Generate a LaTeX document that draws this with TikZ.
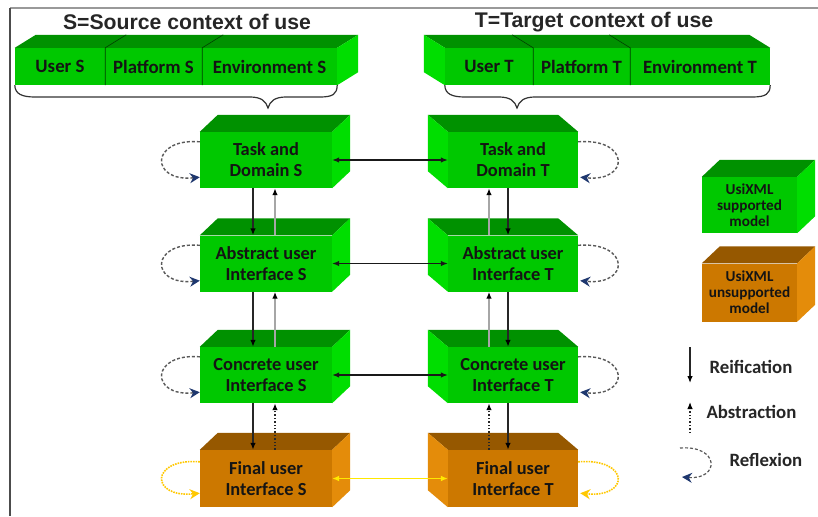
\documentclass[tikz,border=0pt]{standalone}
\usepackage{fontspec}
\setmainfont{Carlito}
\newfontfamily\titlefont{Liberation Sans}
\usetikzlibrary{arrows.meta,calc}
\definecolor{gfront}{RGB}{0,200,0}
\definecolor{gtop}{RGB}{0,145,0}
\definecolor{gside}{RGB}{0,222,0}
\definecolor{ofront}{RGB}{204,120,0}
\definecolor{otop}{RGB}{150,88,0}
\definecolor{oside}{RGB}{228,140,10}
\definecolor{txt}{RGB}{20,20,20}
\definecolor{navyb}{RGB}{30,55,110}
\definecolor{ylw}{RGB}{255,200,0}
\definecolor{ylwh}{RGB}{255,232,0}
\newcommand\boxfnt{\bfseries\fontsize{18.4}{21}\selectfont}
\newcommand\legfnt{\bfseries\fontsize{15.2}{16}\selectfont}
\let\cubefont\boxfnt
% cube with depth to the right
\newcommand\cubeR[7]{%
  \node[front, fill=#6front, minimum width=#4pt, minimum height=#5pt] (#1) at (#2,#3) {#7};
  \fill[#6top] (#1.north west) -- ++(18,-17) -- ($(#1.north east)+(18,-17)$) -- (#1.north east) -- cycle;
  \fill[#6side] (#1.north east) -- ++(18,-17) -- ($(#1.south east)+(18,-17)$) -- (#1.south east) -- cycle;
}
% cube with depth to the left
\newcommand\cubeL[7]{%
  \node[front, fill=#6front, minimum width=#4pt, minimum height=#5pt] (#1) at (#2,#3) {#7};
  \fill[#6top] (#1.north west) -- ++(-20,-17) -- ($(#1.north east)+(-20,-17)$) -- (#1.north east) -- cycle;
  \fill[#6side] (#1.north west) -- ++(-20,-17) -- ($(#1.south west)+(-20,-17)$) -- (#1.south west) -- cycle;
}
\begin{document}
\begin{tikzpicture}[x=1pt,y=-1pt,
  front/.style={draw=none, inner sep=0pt, align=center, font=\cubefont, text=txt},
  strip/.style={fill=gfront, inner sep=0pt, minimum height=37pt, font=\bfseries\fontsize{18.8}{21}\selectfont, text=txt},
  divider/.style={draw=black!75!green, line width=0.6pt},
  brace/.style={draw=black!80, line width=1.2pt},
  title/.style={font=\titlefont\bfseries\fontsize{21.2}{24}\selectfont, text=black!85},
  legtext/.style={anchor=west, font=\bfseries\fontsize{18.8}{21}\selectfont, text=black!85},
  reif/.style={draw=black!85, line width=1.4pt, -{Latex[length=7pt,width=5.5pt,color=black]}},
  abst/.style={draw=black!35, line width=1.4pt, -{Latex[length=7pt,width=5.5pt,color=black]}},
  absdot/.style={draw=black!85, line width=1.4pt, dotted, -{Latex[length=7pt,width=5.5pt,color=black]}},
  horiz/.style={draw=black!90, line width=1.2pt, {Latex[length=7pt,width=5.5pt]}-{Latex[length=7pt,width=5.5pt]}},
  horizy/.style={draw=ylwh, line width=1.4pt, {Latex[length=7pt,width=6pt]}-{Latex[length=7pt,width=6pt]}},
  refl/.style={draw=black!65, densely dashed, line width=1.4pt, -{Stealth[length=10pt,width=10pt,color=navyb]}},
  refly/.style={draw=ylw, densely dotted, line width=1.6pt, -{Stealth[length=10pt,width=10pt,color=ylw]}}
]
\useasboundingbox (0,0) rectangle (818,516);
\fill[white] (0,0) rectangle (818,516);
% frame
\draw[black!40, line width=1.5pt] (10,8) -- (818,8);
\draw[black!70, line width=1.3pt] (10,8) -- (10,516);

% titles
\node[title] (titleS) at (187,22) {S=Source context of use};
\node[title] (titleT) at (594,22) {T=Target context of use};

% source strip
\node[strip, minimum width=90pt] (userS) at (60,66.5) {User S};
\node[strip, minimum width=97pt] (platS) at (153.5,66.5) {Platform S};
\node[strip, minimum width=135pt] (envS) at (269.5,66.5) {Environment S};
\fill[gtop] (userS.north west) -- ++(21,-13) -- ($(envS.north east)+(21,-13)$) -- (envS.north east) -- cycle;
\fill[gside] (envS.north east) -- ++(21,-13) -- ($(envS.south east)+(21,-13)$) -- (envS.south east) -- cycle;
\draw[divider] (userS.south east) -- (userS.north east) -- ++(21,-13);
\draw[divider] (platS.south east) -- (platS.north east) -- ++(21,-13);

% target strip
\node[strip, minimum width=88pt] (userT) at (489,66.5) {User T};
\node[strip, minimum width=97pt] (platT) at (581.5,66.5) {Platform T};
\node[strip, minimum width=140pt] (envT) at (700,66.5) {Environment T};
\fill[gtop] (userT.north west) -- ++(-21,-13) -- ($(envT.north east)+(-21,-13)$) -- (envT.north east) -- cycle;
\fill[gside] (userT.north west) -- ++(-21,-13) -- ($(userT.south west)+(-21,-13)$) -- (userT.south west) -- cycle;
\draw[divider] (userT.south east) -- (userT.north east) -- ++(-21,-13);
\draw[divider] (platT.south east) -- (platT.north east) -- ++(-21,-13);

% braces
\coordinate (braceS) at (268,108);
\coordinate (braceT) at (517,108);
\draw[brace] (userS.south west) .. controls (15,94) and (22,97) .. (35,97) -- (250,97)
  .. controls (261,97) and (266,101) .. (braceS)
  .. controls (270,101) and (275,97) .. (286,97) -- (320,97)
  .. controls (333,97) and (337,94) .. (envS.south east);
\draw[brace] (userT.south west) .. controls (445,94) and (452,97) .. (465,97) -- (499,97)
  .. controls (510,97) and (515,101) .. (braceT)
  .. controls (519,101) and (524,97) .. (535,97) -- (752,97)
  .. controls (766,97) and (770,94) .. (envT.south east);

% model cubes, source side
\cubeR{ts}{266}{160}{132}{56}{g}{Task and\\Domain S}
\cubeR{as}{266}{263.5}{132}{56}{g}{Abstract user\\Interface S}
\cubeR{cs}{266}{375}{132}{56}{g}{Concrete user\\Interface S}
\cubeR{fs}{266}{478.5}{132}{57}{o}{Final user\\Interface S}
% model cubes, target side
\cubeL{tt}{513}{160}{130}{56}{g}{Task and\\Domain T}
\cubeL{at}{513}{263.5}{130}{56}{g}{Abstract user\\Interface T}
\cubeL{ct}{513}{375}{130}{56}{g}{Concrete user\\Interface T}
\cubeL{ft}{513}{478.5}{130}{57}{o}{Final user\\Interface T}

% legend cubes
\let\cubefont\legfnt
\cubeR{lg}{749.5}{205}{95}{56}{g}{UsiXML\\supported\\model}
\cubeR{lo}{749.5}{292.5}{95}{58}{o}{UsiXML\\unsupported\\model}

% horizontal arrows
\draw[horiz] (ts.east) -- (tt.west);
\draw[horiz] (as.east) -- (at.west);
\draw[horiz] (cs.east) -- (ct.west);
\draw[horizy] (fs.east) -- (ft.west);

% vertical arrows, source
\draw[reif] ([xshift=-13pt]ts.south) -- ([xshift=-13pt]as.north);
\draw[abst] ([xshift=9pt]as.north) -- ([xshift=9pt]ts.south);
\draw[reif] ([xshift=-13pt]as.south) -- ([xshift=-13pt]cs.north);
\draw[abst] ([xshift=9pt]cs.north) -- ([xshift=9pt]as.south);
\draw[reif] ([xshift=-13pt]cs.south) -- ([xshift=-13pt]fs.north);
\draw[absdot] ([xshift=9pt]fs.north) -- ([xshift=9pt]cs.south);
% vertical arrows, target
\draw[reif] ([xshift=-5pt]tt.south) -- ([xshift=-5pt]at.north);
\draw[abst] ([xshift=-24pt]at.north) -- ([xshift=-24pt]tt.south);
\draw[reif] ([xshift=-5pt]at.south) -- ([xshift=-5pt]ct.north);
\draw[abst] ([xshift=-24pt]ct.north) -- ([xshift=-24pt]at.south);
\draw[reif] ([xshift=-5pt]ct.south) -- ([xshift=-5pt]ft.north);
\draw[absdot] ([xshift=-24pt]ft.north) -- ([xshift=-24pt]ct.south);

% reflexion loops, source
\foreach \n in {ts,as,cs}{
  \draw[refl] ([yshift=-10pt]\n.north west) .. controls +(-50,-4) and +(-50,5) .. ([yshift=11pt]\n.south west);
}
\draw[refly] ([yshift=-12pt]fs.north west) .. controls +(-50,-4) and +(-50,5) .. ([yshift=14pt]fs.south west);
% reflexion loops, target
\foreach \n in {tt,at,ct}{
  \draw[refl] ([yshift=-10pt]\n.north east) .. controls +(52,-4) and +(50,5) .. ([yshift=11pt,xshift=2pt]\n.south east);
}
\draw[refly] ([yshift=-12pt]ft.north east) .. controls +(52,-4) and +(50,5) .. ([yshift=14pt,xshift=2pt]ft.south east);

% legend arrows
\coordinate (lr1) at (690,347);
\coordinate (lr2) at (690,383);
\coordinate (la1) at (690,433);
\coordinate (la2) at (690,402);
\coordinate (lf1) at (680,448);
\coordinate (lf2) at (682,477);
\draw[reif, line width=1.2pt] (lr1) -- (lr2);
\draw[absdot, line width=1.2pt] (la1) -- (la2);
\draw[refl, line width=1.2pt] (lf1) .. controls (720,445) and (720,480) .. (lf2);
\node[legtext] (lreif) at (706,367) {Reification};
\node[legtext] (labst) at (703,412) {Abstraction};
\node[legtext] (lrefl) at (726,460) {Reflexion};
\end{tikzpicture}
\end{document}
